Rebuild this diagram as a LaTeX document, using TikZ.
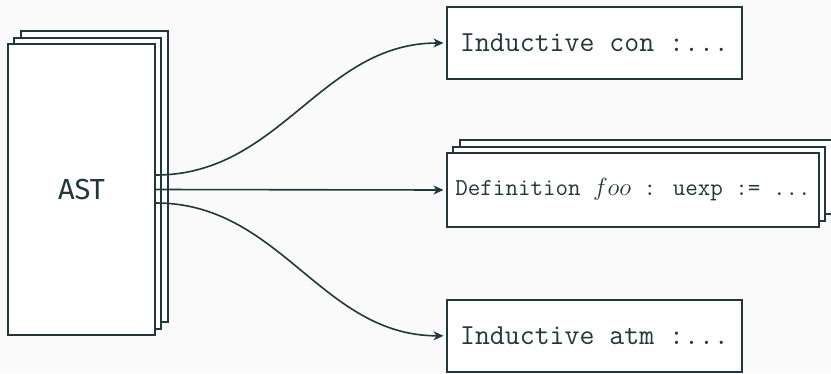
\documentclass[tikz,border=0pt]{standalone}
\usepackage{fontspec}
\setsansfont{Fira Sans}
\usetikzlibrary{arrows.meta}
\definecolor{ink}{HTML}{23373B}
\definecolor{paper}{HTML}{FAFAFA}
\tikzset{
  box/.style={draw=ink, line width=2pt, fill=white, rectangle, inner sep=0pt, text=ink},
  conn/.style={draw=ink, line width=1.6pt, shorten >=2.5pt,
    -{Stealth[length=10pt, width=9pt, inset=3pt]}},
  bigtt/.style={font=\fontsize{29}{34}\selectfont\ttfamily},
  smalltt/.style={font=\fontsize{24.3}{29}\selectfont\ttfamily},
}
\begin{document}
\begin{tikzpicture}[x=1pt, y=-1pt]
  \fill[paper] (0,0) rectangle (831,373);
  \useasboundingbox (0,0) rectangle (831,373);

  % AST stack (back sheets first)
  \node[box, minimum width=147pt, minimum height=291pt] (astB) at (94.1,176.9) {};
  \node[box, minimum width=147pt, minimum height=291pt] (astM) at (87.8,183.2) {};
  \node[box, minimum width=147pt, minimum height=291pt,
        font=\fontsize{29}{34}\selectfont\sffamily] (ast) at (81.5,189.5) {AST};

  % target declarations
  \node[box, bigtt, minimum width=295pt, minimum height=72pt] (con) at (594.5,43) {Inductive con :...};

  \node[box, minimum width=372pt, minimum height=74pt] (defB) at (645.8,177.2) {};
  \node[box, minimum width=372pt, minimum height=74pt] (defM) at (639.4,183.6) {};
  \node[box, smalltt, minimum width=372pt, minimum height=74pt] (def) at (633,190)
    {Definition $foo$ : uexp := ...};

  \node[box, bigtt, minimum width=295pt, minimum height=71.5pt] (atm) at (594.5,335.8) {Inductive atm :...};

  % connectors
  \draw[conn] ([yshift=14.5pt]ast.east) to[out=0, in=180] (con.west);
  \draw[conn] (ast.east) -- (def.west);
  \draw[conn] ([yshift=-13.5pt]ast.east) to[out=0, in=180] (atm.west);
\end{tikzpicture}
\end{document}
